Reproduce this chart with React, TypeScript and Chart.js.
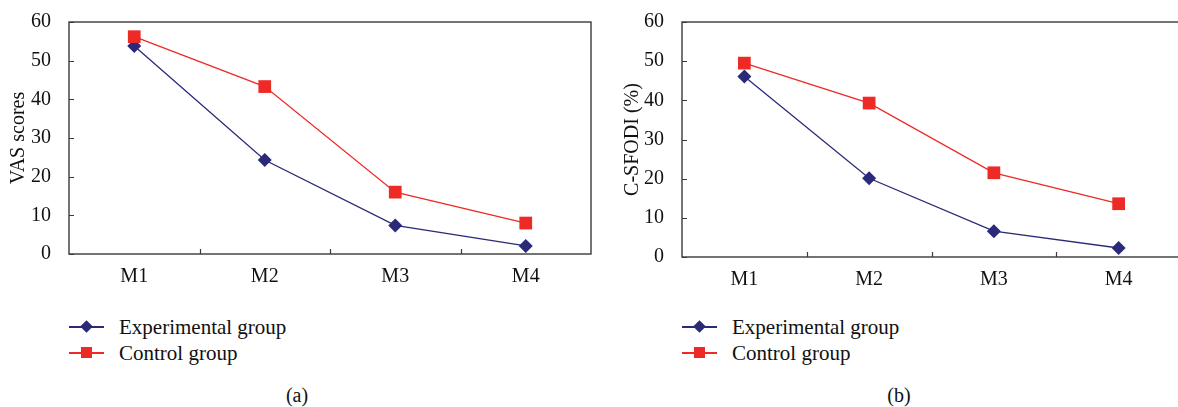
import React, { useEffect, useRef } from "react";
import { Chart, registerables } from "chart.js";

Chart.register(...registerables);

const categories = ["M1", "M2", "M3", "M4"];
const vasExperimental = [53.8, 24.3, 7.4, 2.1];
const vasControl = [56.2, 43.3, 16.0, 8.0];
const sfodiExperimental = [46.1, 20.1, 6.6, 2.3];
const sfodiControl = [49.5, 39.3, 21.5, 13.6];
const yTicks = [0, 10, 20, 30, 40, 50, 60];
const seriesNames = ["Experimental group", "Control group"];

const NAVY = "#2a2a78";
const RED = "#ee2a26";
const AXIS = "#3a3a3a";
const FONT = "'Liberation Serif', serif";

const framePlugin = {
  id: "frame",
  afterDraw(chart: any) {
    const { ctx, chartArea } = chart;
    const x = chart.scales.x;
    const y = chart.scales.y;
    ctx.save();
    ctx.strokeStyle = AXIS;
    ctx.lineWidth = 1.4;
    ctx.strokeRect(chartArea.left, chartArea.top, chartArea.right - chartArea.left, chartArea.bottom - chartArea.top);
    ctx.lineWidth = 1.2;
    ctx.beginPath();
    y.ticks.forEach((_t: any, i: number) => {
      const py = Math.round(y.getPixelForTick(i)) + 0.5;
      ctx.moveTo(chartArea.left, py);
      ctx.lineTo(chartArea.left + 5, py);
    });
    for (let i = 0; i < categories.length - 1; i++) {
      const px = Math.round((x.getPixelForTick(i) + x.getPixelForTick(i + 1)) / 2) + 0.5;
      ctx.moveTo(px, chartArea.bottom);
      ctx.lineTo(px, chartArea.bottom - 5);
    }
    ctx.stroke();
    ctx.restore();
  },
};

type PanelProps = {
  expData: number[];
  ctrlData: number[];
  yTitle: string;
  width: number;
  height: number;
  yWidth: number;
  padTop: number;
  padRight: number;
  xHeight: number;
  titlePad: number;
};

function Panel(props: PanelProps) {
  const ref = useRef<HTMLCanvasElement | null>(null);
  useEffect(() => {
    if (!ref.current) return;
    const chart = new Chart(ref.current, {
      type: "line",
      data: {
        labels: categories,
        datasets: [
          {
            label: seriesNames[1],
            data: props.ctrlData,
            borderColor: RED,
            backgroundColor: RED,
            borderWidth: 1.3,
            pointStyle: "rect",
            pointRadius: 9,
            pointBorderWidth: 0,
            pointBackgroundColor: RED,
          },
          {
            label: seriesNames[0],
            data: props.expData,
            borderColor: NAVY,
            backgroundColor: NAVY,
            borderWidth: 1.3,
            pointStyle: "rectRot",
            pointRadius: 7,
            pointBorderWidth: 0,
            pointBackgroundColor: NAVY,
          },
        ],
      },
      options: {
        animation: false,
        responsive: false,
        maintainAspectRatio: false,
        layout: { padding: { top: props.padTop, right: props.padRight, left: 0, bottom: 0 } },
        plugins: { legend: { display: false }, tooltip: { enabled: false } },
        scales: {
          x: {
            offset: true,
            border: { display: false },
            grid: { display: false, offset: true },
            ticks: { color: "#111", font: { family: FONT, size: 20 }, padding: 3 },
            afterFit: (s: any) => { s.height = props.xHeight; },
          },
          y: {
            min: 0,
            max: 60,
            afterBuildTicks: (s: any) => { s.ticks = yTicks.map((v) => ({ value: v })); },
            border: { display: false },
            grid: { display: false },
            ticks: { color: "#111", font: { family: FONT, size: 20 }, padding: 10 },
            title: {
              display: true,
              text: props.yTitle,
              color: "#111",
              font: { family: FONT, size: 20 },
              padding: { top: props.titlePad, bottom: 0 },
            },
            afterFit: (s: any) => { s.width = props.yWidth; },
          },
        },
      },
      plugins: [framePlugin],
    });
    return () => chart.destroy();
  }, []);
  return <canvas ref={ref} width={props.width} height={props.height} style={{ display: "block" }} />;
}

function Legend({ left, top }: { left: number; top: number }) {
  const row = (name: string, color: string, diamond: boolean, y: number) => (
    <div style={{ position: "absolute", left, top: y, height: 26, display: "flex", alignItems: "center" }}>
      <div style={{ position: "relative", width: 35, height: 2 }}>
        <div style={{ position: "absolute", left: 0, top: 0, width: 35, height: 1.5, background: color }} />
        <div
          style={{
            position: "absolute",
            left: diamond ? 13 : 12,
            top: diamond ? -4 : -5,
            width: diamond ? 9 : 11,
            height: diamond ? 9 : 11,
            background: color,
            transform: diamond ? "rotate(45deg)" : "none",
          }}
        />
      </div>
      <span style={{ marginLeft: 15, fontFamily: "Liberation Serif", fontSize: 21, color: "#111", whiteSpace: "nowrap" }}>{name}</span>
    </div>
  );
  return (
    <>
      {row(seriesNames[0], NAVY, true, top)}
      {row(seriesNames[1], RED, false, top + 26)}
    </>
  );
}

export default function App() {
  return (
    <div style={{ position: "absolute", left: 0, top: 0, width: 1178, height: 407, overflow: "hidden", background: "#fff" }}>
      <div style={{ position: "absolute", left: 0, top: 0 }}>
        <Panel expData={vasExperimental} ctrlData={vasControl} yTitle="VAS scores" width={600} height={300} yWidth={69} padTop={19} padRight={4} xHeight={46} titlePad={7} />
      </div>
      <div style={{ position: "absolute", left: 600, top: 0 }}>
        <Panel expData={sfodiExperimental} ctrlData={sfodiControl} yTitle="C-SFODI (%)" width={590} height={300} yWidth={82} padTop={21} padRight={9} xHeight={43} titlePad={21} />
      </div>
      <Legend left={69} top={314} />
      <Legend left={682} top={314} />
      <div style={{ position: "absolute", left: 297, top: 395, transform: "translate(-50%, -50%)", fontFamily: "Liberation Serif", fontSize: 20, color: "#111" }}>(a)</div>
      <div style={{ position: "absolute", left: 899, top: 395, transform: "translate(-50%, -50%)", fontFamily: "Liberation Serif", fontSize: 20, color: "#111" }}>(b)</div>
    </div>
  );
}
